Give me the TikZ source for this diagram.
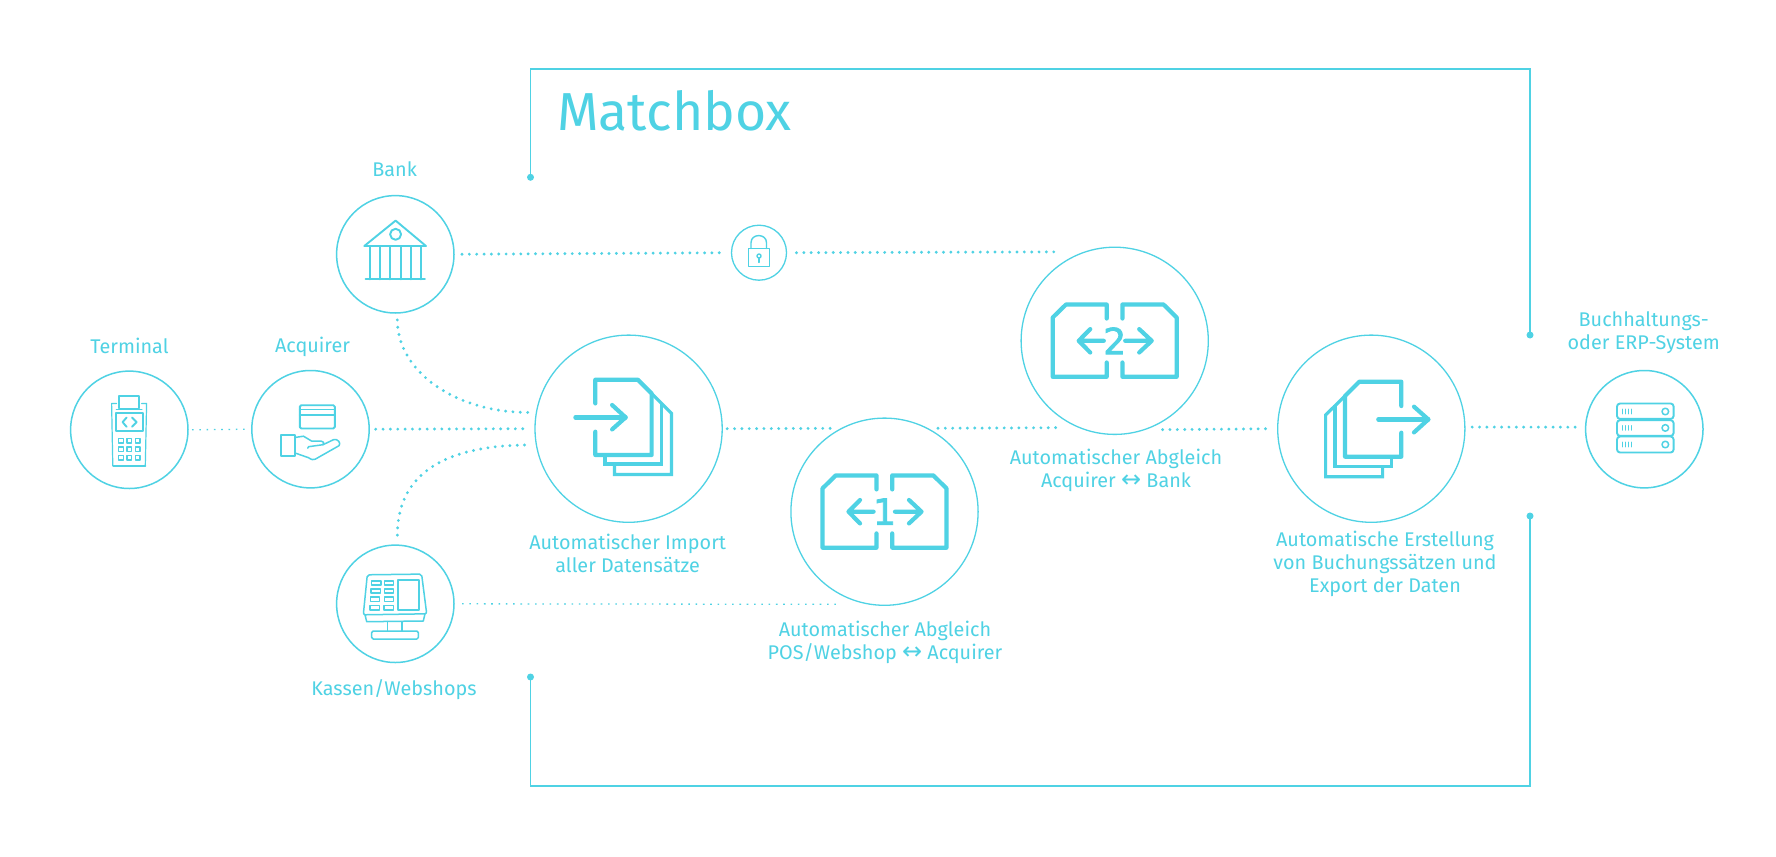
\documentclass[tikz,border=0pt]{standalone}
\usepackage{fontspec}
\setmainfont{Fira Sans}
\newfontfamily\arrfont{DejaVu Sans}
\newfontfamily\numfont[FakeBold=2]{DejaVu Sans}
\definecolor{mb}{HTML}{4FD2E4}
\tikzset{
  ring/.style={circle,draw=mb,line width=1.5pt,inner sep=0pt,outer sep=0pt,minimum size=117.4pt},
  bigring/.style={circle,draw=mb,line width=1.3pt,inner sep=0pt,outer sep=0pt,minimum size=187.2pt},
  lockring/.style={circle,draw=mb,line width=1.3pt,inner sep=0pt,outer sep=0pt,minimum size=55pt},
  lbl/.style={text=mb,align=center,anchor=base,inner sep=0pt,font=\fontsize{19.8}{23}\selectfont},
  title/.style={text=mb,anchor=base west,inner sep=0pt,font=\fontsize{53.5}{60}\selectfont},
  dotted line/.style={draw=mb,line width=3.2pt,line cap=round,dash pattern=on 0pt off 7.35pt},
  thin dots/.style={draw=mb,line width=1.3pt,dash pattern=on 1.6pt off 5.7pt},
  frame/.style={draw=mb,line width=1.8pt,line join=miter},
  pin/.style={circle,fill=mb,inner sep=0pt,minimum size=7pt},
  ico/.style={draw=mb,line width=1.9pt,line join=round,line cap=round},
  heavy/.style={draw=mb,line width=4.2pt,line join=round,line cap=round},
  mid/.style={draw=mb,line width=3.2pt,line join=miter},
  num/.style={text=mb,inner sep=0pt,font=\numfont\fontsize{36}{36}\selectfont}
}
\newcommand{\dbl}{{\arrfont\fontsize{24}{23}\selectfont ↔}}
\begin{document}
\begin{tikzpicture}[x=1pt,y=-1pt]
\fill[white] (0,0) rectangle (1776,856);
\useasboundingbox (0,0) rectangle (1776,856);

% circles
\node[ring] (term) at (129.3,429.8) {};
\node[ring] (acq) at (310.5,429.2) {};
\node[ring] (bank) at (395.3,254.3) {};
\node[ring] (kasse) at (395.3,603.8) {};
\node[ring] (erp) at (1644.3,429.2) {};
\node[bigring] (imp) at (628.6,428.7) {};
\node[bigring] (mone) at (884.5,511.7) {};
\node[bigring] (mtwo) at (1114.7,340.8) {};
\node[bigring] (expo) at (1371.3,428.7) {};
\node[lockring] (lock) at (759,252.7) {};

% frame
\node[pin] (p1) at (530.5,177.3) {};
\node[pin] (p2) at (1530,335) {};
\node[pin] (p3) at (530.5,677) {};
\node[pin] (p4) at (1530,516) {};
\coordinate (c1) at (530.5,69);
\coordinate (c2) at (1530,69);
\coordinate (c3) at (530.5,785.7);
\coordinate (c4) at (1530,785.7);
\draw[frame] (p1.center) -- (c1) -- (c2) -- (p2.center);
\draw[frame] (p3.center) -- (c3) -- (c4) -- (p4.center);

% labels
\node[title] (tmatch) at (557,130) {Matchbox};
\node[lbl] (tterm) at (129.5,353) {Terminal};
\node[lbl] (tacq) at (312.5,352) {Acquirer};
\node[lbl] (tbank) at (394.7,176) {Bank};
\node[lbl] (tkasse) at (394,695) {Kassen/Webshops};
\node[lbl] (timp) at (627.7,572.7) {Automatischer Import\\aller Datensätze};
\node[lbl] (tone) at (885,659) {Automatischer Abgleich\\POS/Webshop \dbl{} Acquirer};
\node[lbl] (ttwo) at (1116,487.7) {Automatischer Abgleich\\Acquirer \dbl{} Bank};
\node[lbl] (texp) at (1385,592.7) {Automatische Erstellung\\von Buchungssätzen und\\Export der Daten};
\node[lbl] (terp) at (1643.7,349.5) {Buchhaltungs-\\oder ERP-System};

% connectors
\draw[thin dots,shorten <=4pt,shorten >=6pt] (term.east) -- (acq.west);
\draw[dotted line,shorten <=6.5pt,shorten >=6pt] (acq.east) -- (imp.west);
\draw[dotted line,shorten <=8pt,shorten >=7pt] (bank.east) -- (lock.west);
\draw[dotted line,shorten <=10pt,shorten >=27pt] (lock.east) -- (mtwo.108.8);
\draw[dotted line,shorten <=7pt,shorten >=8pt] (bank.272) .. controls +(0,58) and +(-82,0) .. (imp.170);
\draw[dotted line,shorten <=10pt,shorten >=6pt] (kasse.88) .. controls +(0,-75) and +(-86,0) .. (imp.190.6);
\draw[dotted line,shorten <=5pt,shorten >=8pt] (imp.east) -- (mone.117.7);
\draw[dotted line,shorten <=11pt,shorten >=18pt] (mone.63.7) -- (mtwo.248.5);
\draw[dotted line,shorten <=19pt,shorten >=10.6pt] (mtwo.288.8) -- (expo.west);
\draw[dotted line,shorten <=7.3pt,shorten >=10pt] (expo.1) -- (erp.178);
\draw[thin dots,shorten <=8pt,shorten >=35pt] (kasse.east) -- (mone.262.5);

% terminal icon
\begin{scope}[shift={(term.center)}]
\draw[ico,line width=1.2pt] (-12.7,-26.3) -- (-17.7,-26.3) -- (-16.5,36) -- (16,36) -- (17.3,-26.3) -- (12.3,-26.3);
\draw[ico] (-16,36) -- (16,36);
\draw[ico] (-10,-21.3) rectangle (9.7,-34);
\draw[ico] (-12.7,-20.3) -- (12.3,-20.3);
\draw[ico] (-13.7,-17) rectangle (13.3,1.3);
\draw[ico] (-2.7,-12.3) -- (-6.7,-7.7) -- (-2.7,-3);
\draw[ico] (2.7,-12.3) -- (7.3,-7.7) -- (2.7,-3);
\foreach \yy in {11,19.3,28}\foreach \xx in {-8.3,0,8.3}
  \draw[ico,line width=1.5pt] (\xx-2.3,\yy-2.3) rectangle (\xx+2.3,\yy+2.3);
\end{scope}

% acquirer icon
\begin{scope}[shift={(acq.center)}]
\draw[ico,rounded corners=1.5pt] (-10.7,-24) rectangle (24.3,-0.7);
\draw[ico] (-10.7,-19.7) -- (24.3,-19.7) (-10.7,-14) -- (24.3,-14);
\draw[ico] (-29.7,6) rectangle (-15.7,26.7);
\draw[ico,line width=1.5pt] (-15.7,8.3) -- (-7,7) -- (1.3,12) -- (11,12) .. controls (13,12) and (14,14) .. (12.5,15.5) -- (-2,17.5) -- (-2.7,19);
\draw[ico,line width=1.5pt] (12.5,15.5) -- (23,10.5) .. controls (27,9) and (31,14) .. (28.5,16.5) -- (4.7,30) .. controls (3,31) and (1,30.5) .. (-2,28.5) -- (-15.7,23.7);
\end{scope}

% bank icon
\begin{scope}[shift={(bank.center)}]
\draw[ico] (-31,-8.3) -- (0.3,-33.7) -- (30.7,-8.3) -- cycle;
\draw[ico] (0.3,-20) circle (5.5);
\foreach \xx in {-25.3,-15.3,-5,5.3,15.7,25.7}
  \draw[ico] (\xx,-8.3) -- (\xx,25);
\draw[ico] (-29.7,25) -- (29.7,25);
\end{scope}

% kassen icon
\begin{scope}[shift={(kasse.center)}]
\draw[ico,line width=1.5pt,rounded corners=2pt] (-28,-29) -- (26.3,-29.7) -- (31.4,10) -- (-32,11) -- cycle;
\draw[ico,line width=1.5pt] (-30.3,11) -- (-28.6,17.9) -- (28,17.2) -- (29.7,10);
\draw[ico,line width=1.5pt] (-7.6,17.9) -- (-7.6,27.2) (6.7,17.9) -- (6.7,27.2);
\draw[ico,line width=1.5pt,rounded corners=1.5pt] (-23.6,27.2) rectangle (23,35.2);
\draw[ico,line width=2.2pt] (2.7,-23.8) rectangle (23.7,6.2);
\foreach \xa/\xb/\yy in {-19/-6.3/-20.8,-19.6/-6.3/-12.8,-20.3/-6.3/-4.5,-20.6/-6.6/3.9}{
  \draw[ico,line width=1.5pt] (\xa-4.6,\yy-2.1) rectangle (\xa+4.6,\yy+2.1);
  \draw[ico,line width=1.5pt] (\xb-4.6,\yy-2.1) rectangle (\xb+4.6,\yy+2.1);
}
\end{scope}

% lock icon
\begin{scope}[shift={(lock.center)}]
\draw[ico,line width=1.4pt] (-10.7,-4.3) rectangle (10.7,14);
\draw[ico,line width=1.4pt] (-8,-4.3) -- (-8,-10) .. controls (-8,-19.5) and (7.5,-19.5) .. (7.5,-10) -- (7.5,-4.3);
\draw[ico,line width=1.4pt] (0,3.3) circle (2);
\draw[ico,line width=1.4pt] (0,5.3) -- (0,9.7);
\end{scope}

% import icon
\begin{scope}[shift={(imp.center)}]
\draw[heavy] (-33.3,-25.3) -- (-33.3,-49) -- (9.2,-49) -- (23,-35.2) -- (23,26.3) -- (-33.3,26.3) -- (-33.3,3);
\draw[mid] (21.5,-36.7) -- (42.9,-15.3) -- (42.9,45.7) -- (-14.2,45.7) -- (-14.2,35.3);
\draw[mid] (32.9,-25.3) -- (32.9,35.3) -- (-23.7,35.3) -- (-23.7,26.3);
\draw[heavy] (-53.2,-11.3) -- (-3,-11.3);
\draw[heavy] (-16.5,-23.7) -- (-3,-11.3) -- (-16.5,0.7);
\end{scope}

% export icon
\begin{scope}[shift={(expo.center)}]
\draw[heavy] (30,-22.7) -- (30,-47) -- (-12,-47) -- (-26.3,-32.7) -- (-26.3,28) -- (30,28) -- (30,4);
\draw[mid] (-25,-34) -- (-45.7,-13.7) -- (-45.7,48) -- (11.3,48) -- (11.3,38);
\draw[mid] (-36.3,-23.3) -- (-36.3,38) -- (20.3,38) -- (20.3,28);
\draw[heavy] (7,-9.3) -- (57,-9.3);
\draw[heavy] (42.7,-22) -- (57,-9.3) -- (42.7,3.7);
\end{scope}

% match icons
\foreach \nn/\tt in {mone/1,mtwo/2}{
\begin{scope}[shift={(\nn.center)}]
\draw[heavy] (-8,-22.3) -- (-8,-36.3) -- (-48.7,-36.3) -- (-62,-23.3) -- (-62,36) -- (-8,36) -- (-8,21.7);
\draw[heavy] (7.7,-22.3) -- (7.7,-36.3) -- (48.8,-36.3) -- (62,-23.3) -- (62,36) -- (7.7,36) -- (7.7,21.7);
\draw[heavy] (-10.9,0) -- (-36,0) (-24.5,-11.7) -- (-36,0) -- (-24.5,11.7);
\draw[heavy] (10.5,0) -- (37,0) (24.5,-11.7) -- (37,0) -- (24.5,11.7);
\node[num] (n\tt) at (0,0) {\tt};
\end{scope}
}

% server icon
\begin{scope}[shift={(erp.center)}]
\foreach \ya/\yb/\yc in {-25.7/-10.3/-17.7,-9/6.7/-1.3,7.3/23.3/15.3}{
  \draw[ico,rounded corners=3pt] (-27.3,\ya) rectangle (29.3,\yb);
  \draw[ico,line width=1.5pt] (21,\yc) circle (3.3);
  \foreach \xx in {-21.7,-19,-16,-12.7}
    \draw[ico,line width=1.1pt] (\xx,\yc-2.3) -- (\xx,\yc+2.3);
}
\end{scope}
\end{tikzpicture}
\end{document}
